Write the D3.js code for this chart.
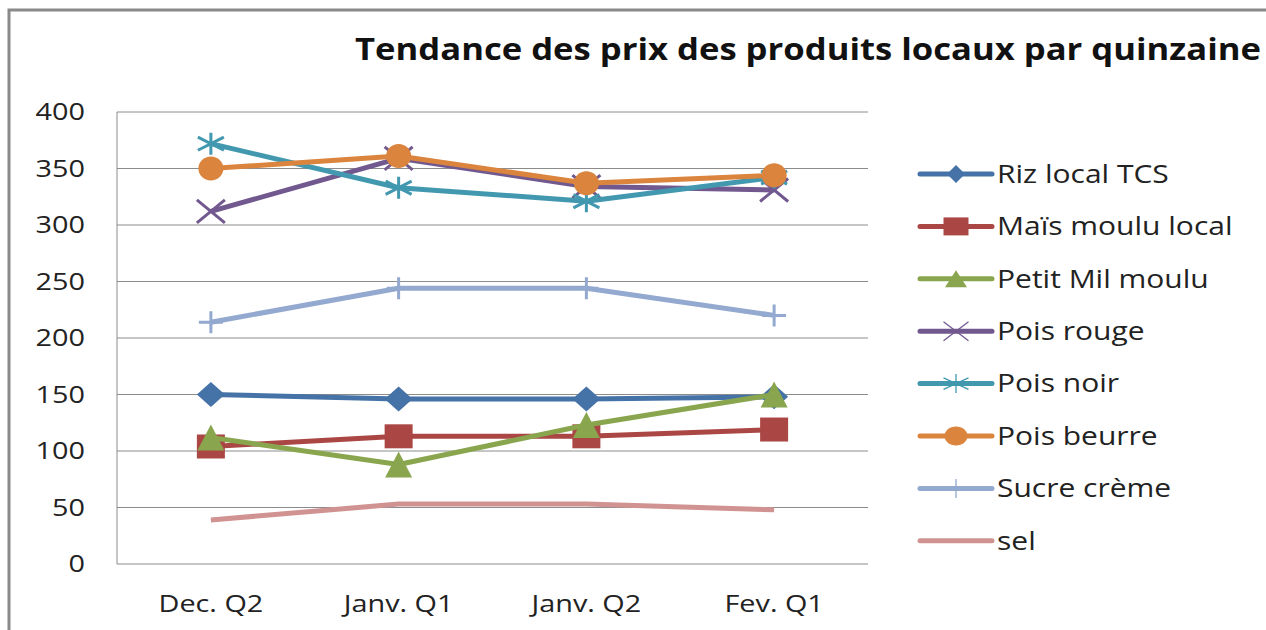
<!DOCTYPE html>
<html>
  <head>
    <meta charset="utf-8">
    <title>Tendance des prix</title>
    <script src="https://d3js.org/d3.v7.min.js"></script>
    <style>
      body { margin: 0; background: #fff; }
      svg { display: block; }
      svg text { font-family: "Open Sans", "DejaVu Sans", sans-serif; }
      .grid line { stroke: #8c8c8c; stroke-width: 1; }
    </style>
  </head>
  <body>
    <svg id="chart" width="1266" height="630"></svg>
    <script>
      // data
      categories = ["Dec. Q2", "Janv. Q1", "Janv. Q2", "Fev. Q1"];
      seriesNames = ["Riz local TCS", "Maïs moulu local", "Petit Mil moulu", "Pois rouge", "Pois noir", "Pois beurre", "Sucre crème", "sel"];
      rizValues = [150, 146, 146, 148];
      maisValues = [104, 113, 113, 119];
      milValues = [112, 88, 123, 150];
      poisRougeValues = [312, 359, 334, 331];
      poisNoirValues = [372, 333, 321, 342];
      poisBeurreValues = [350, 361, 337, 344];
      sucreValues = [214, 244, 244, 220];
      selValues = [39, 53, 53, 48];
      yTicks = [0, 50, 100, 150, 200, 250, 300, 350, 400];

      allValues = [rizValues, maisValues, milValues, poisRougeValues, poisNoirValues, poisBeurreValues, sucreValues, selValues];
      colors = ["#4572A7", "#AA4643", "#89A54E", "#71588F", "#4198AF", "#DB843D", "#93A9CF", "#D19392"];
      markerKinds = ["diamond", "square", "triangle", "times", "asterisk", "circle", "plus", null];
      filled = { diamond: true, square: true, triangle: true, circle: true };
      // half width / half height of each marker, in the plot and in the legend
      plotSizes = { diamond: [14, 12.5], square: [14, 12], triangle: [13.5, 13], times: [14, 11.5], asterisk: [13, 11], circle: [12.5, 12], plus: [12, 11] };
      keySizes = { diamond: [9, 9], square: [12.5, 9], triangle: [11, 8.5], times: [12.5, 9.5], asterisk: [12.5, 9.5], circle: [11.5, 9.5], plus: [12, 9.5] };

      // custom d3 symbol types, stretched like the picture
      function markerType(kind, w, h) {
        return { draw: function(c) {
          if (kind === "diamond") { c.moveTo(0, -h); c.lineTo(w, 0); c.lineTo(0, h); c.lineTo(-w, 0); c.closePath(); }
          else if (kind === "square") { c.rect(-w, -h, 2 * w, 2 * h); }
          else if (kind === "triangle") { c.moveTo(0, -h); c.lineTo(w, h); c.lineTo(-w, h); c.closePath(); }
          else if (kind === "times") { c.moveTo(-w, -h); c.lineTo(w, h); c.moveTo(w, -h); c.lineTo(-w, h); }
          else if (kind === "asterisk") { c.moveTo(-w, -h * 0.6); c.lineTo(w, h * 0.6); c.moveTo(w, -h * 0.6); c.lineTo(-w, h * 0.6); c.moveTo(0, -h); c.lineTo(0, h); }
          else if (kind === "plus") { c.moveTo(-w, 0); c.lineTo(w, 0); c.moveTo(0, -h); c.lineTo(0, h); }
          else if (kind === "circle") {
            var k = 0.5523;
            c.moveTo(w, 0);
            c.bezierCurveTo(w, k * h, k * w, h, 0, h);
            c.bezierCurveTo(-k * w, h, -w, k * h, -w, 0);
            c.bezierCurveTo(-w, -k * h, -k * w, -h, 0, -h);
            c.bezierCurveTo(k * w, -h, w, -k * h, w, 0);
            c.closePath();
          }
        } };
      }

      series = seriesNames.map(function(name, i) {
        return { name: name, values: allValues[i], color: colors[i], kind: markerKinds[i] };
      });

      // the reference picture is stretched sideways a bit
      stretch = 1.2;

      chart = d3.select("#chart");
      plotLeft = 117; plotRight = 868; plotTop = 112; plotBottom = 564;

      x = d3.scaleBand().domain(categories).range([plotLeft, plotRight]).padding(0);
      y = d3.scaleLinear().domain([0, 400]).range([plotBottom, plotTop]);
      cx = function(c) { return x(c) + x.bandwidth() / 2; };

      // outer frame (runs off right and bottom)
      chart.append("path")
        .attr("d", "M9,640 V10 H1280")
        .attr("fill", "none")
        .attr("stroke", "#8a8a8a")
        .attr("stroke-width", 3);

      // title
      chart.append("text")
        .attr("x", 355)
        .attr("y", 60)
        .attr("font-size", 30)
        .attr("font-weight", "bold")
        .attr("fill", "#111")
        .attr("textLength", 906)
        .attr("lengthAdjust", "spacingAndGlyphs")
        .text("Tendance des prix des produits locaux par quinzaine");

      // gridlines
      chart.append("g")
        .attr("class", "grid")
        .selectAll("line")
          .data(yTicks)
        .enter().append("line")
          .attr("x1", plotLeft).attr("x2", plotRight)
          .attr("y1", function(d) { return y(d); })
          .attr("y2", function(d) { return y(d); });
      chart.append("line")
        .attr("x1", plotLeft).attr("x2", plotLeft)
        .attr("y1", plotTop).attr("y2", plotBottom)
        .attr("stroke", "#8c8c8c");

      // axes
      yAxis = chart.append("g")
        .attr("transform", "translate(85,0)")
        .call(d3.axisLeft(y).tickValues(yTicks).tickSize(0).tickPadding(0));
      yAxis.select(".domain").remove();
      yAxis.selectAll("text")
        .attr("x", 0)
        .attr("font-size", 24)
        .attr("fill", "#222")
        .attr("transform", "scale(" + stretch + ",1)");

      xAxis = chart.append("g")
        .attr("transform", "translate(0," + plotBottom + ")")
        .call(d3.axisBottom(x).tickSize(0));
      xAxis.select(".domain").remove();
      xAxis.selectAll("text")
        .attr("y", 48)
        .attr("dy", 0)
        .attr("font-size", 24)
        .attr("fill", "#222")
        .attr("transform", "scale(" + stretch + ",1)");

      // lines
      line = d3.line()
        .x(function(d, i) { return cx(categories[i]); })
        .y(function(d) { return y(d); });

      groups = chart.selectAll(".series")
          .data(series)
        .enter().append("g")
          .attr("class", "series");
      groups.append("path")
        .attr("d", function(d) { return line(d.values); })
        .attr("fill", "none")
        .attr("stroke", function(d) { return d.color; })
        .attr("stroke-width", 5)
        .attr("stroke-linejoin", "round");
      groups.each(function(s) {
        if (!s.kind) return;
        var sz = plotSizes[s.kind];
        d3.select(this).selectAll(".pt")
            .data(s.values)
          .enter().append("path")
            .attr("transform", function(d, i) { return "translate(" + cx(categories[i]) + "," + y(d) + ")"; })
            .attr("d", d3.symbol().type(markerType(s.kind, sz[0], sz[1])))
            .attr("fill", filled[s.kind] ? s.color : "none")
            .attr("stroke", s.color)
            .attr("stroke-width", filled[s.kind] ? 0 : 3);
      });

      // legend
      items = chart.append("g").selectAll(".key")
          .data(series)
        .enter().append("g")
          .attr("class", "key")
          .attr("transform", function(d, i) { return "translate(920," + (174 + i * 52.4) + ")"; });
      items.append("line")
        .attr("x1", 0).attr("x2", 72)
        .attr("stroke", function(d) { return d.color; })
        .attr("stroke-width", 5)
        .attr("stroke-linecap", "round");
      items.filter(function(d) { return d.kind; }).append("path")
        .attr("transform", "translate(36,0)")
        .attr("d", function(d) { var sz = keySizes[d.kind]; return d3.symbol().type(markerType(d.kind, sz[0], sz[1]))(); })
        .attr("fill", function(d) { return filled[d.kind] ? d.color : "none"; })
        .attr("stroke", function(d) { return d.color; })
        .attr("stroke-width", function(d) { return filled[d.kind] ? 0 : 1.3; });
      items.append("text")
        .attr("transform", "translate(77,0) scale(" + stretch + ",1)")
        .attr("dy", "0.35em")
        .attr("font-size", 25)
        .attr("fill", "#222")
        .text(function(d) { return d.name; });
    </script>
  </body>
</html>
